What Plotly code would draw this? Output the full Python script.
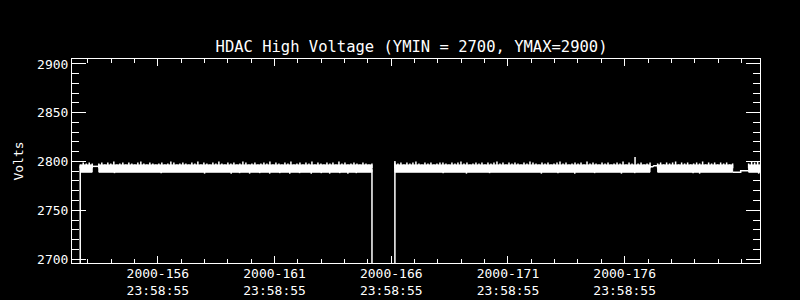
import plotly.graph_objects as go

# ---------------- data (day-of-year 2000, fractional) ----------------
title_text = "HDAC High Voltage (YMIN = 2700, YMAX=2900)"
y_label = "Volts"

major_tick_days = [156.999, 161.999, 166.999, 171.999, 176.999]
major_tick_text = ["2000-156<br>23:58:55", "2000-161<br>23:58:55", "2000-166<br>23:58:55",
                   "2000-171<br>23:58:55", "2000-176<br>23:58:55"]
minor_tick_days = [153.999, 154.999, 155.999, 156.999, 157.999, 158.999, 159.999, 160.999,
                   161.999, 162.999, 163.999, 164.999, 165.999, 166.999, 167.999, 168.999,
                   169.999, 170.999, 171.999, 172.999, 173.999, 174.999, 175.999, 176.999,
                   177.999, 178.999, 179.999, 180.999, 181.999, 182.999]

sample_step = 0.1286      # days between plotted samples
band_low = 2789           # typical lower edge of the noisy band
band_high = 2796.5        # typical upper edge of the dense band

seg_start = [153.672, 154.469, 167.155, 178.41, 182.31]

seg_a_top = [2797, 2799, 2798, 2799, 2798]
seg_b_top = [2798, 2799, 2797, 2799, 2798, 2800, 2797, 2798, 2799, 2797,
             2799, 2798, 2797, 2799, 2800, 2798, 2797, 2799, 2798, 2797,
             2798, 2799, 2797, 2798, 2800, 2799, 2797, 2798, 2799, 2798,
             2797, 2799, 2798, 2800, 2797, 2799, 2798, 2797, 2799, 2798,
             2800, 2798, 2797, 2799, 2798, 2799, 2797, 2798, 2800, 2799,
             2797, 2798, 2799, 2797, 2798, 2799, 2798, 2800, 2797, 2799,
             2798, 2797, 2799, 2798, 2800, 2797, 2798, 2799, 2797, 2799,
             2798, 2800, 2797, 2799, 2798, 2797, 2799, 2798, 2799, 2797,
             2800, 2798, 2799, 2797, 2798, 2799, 2798, 2797, 2799, 2798,
             2797, 2798]
seg_c_top = [2799, 2798, 2799, 2797, 2799, 2798, 2799, 2800, 2798, 2797,
             2799, 2798, 2799, 2797, 2798, 2799, 2799, 2798, 2797, 2799,
             2798, 2799, 2800, 2798, 2799, 2797, 2798, 2799, 2798, 2799,
             2797, 2799, 2798, 2799, 2800, 2798, 2799, 2797, 2799, 2798,
             2799, 2798, 2797, 2799, 2798, 2800, 2799, 2798, 2797, 2799,
             2798, 2799, 2797, 2798, 2799, 2800, 2798, 2799, 2797, 2798,
             2799, 2798, 2799, 2797, 2800, 2798, 2799, 2798, 2797, 2799,
             2798, 2799, 2797, 2798, 2799, 2798, 2800, 2797, 2799, 2798,
             2804.5, 2798, 2799, 2797, 2798, 2799]
seg_d_top = [2798, 2799, 2797, 2799, 2798, 2799, 2800, 2797, 2799, 2798,
             2799, 2797, 2798, 2799, 2798, 2800, 2797, 2799, 2798, 2799,
             2797, 2799, 2798, 2799, 2797, 2798]
seg_e_top = [2798, 2800, 2799, 2800, 2799]
seg_tops = [seg_a_top, seg_b_top, seg_c_top, seg_d_top, seg_e_top]

dip_days = [155.14, 157.14, 159.0, 160.14, 160.50, 160.93, 161.36, 161.79, 162.22, 162.65,
            163.07, 163.57, 164.0, 164.36, 164.79, 165.14, 165.5, 169.22, 170.22, 171.21,
            173.43, 174.14, 174.86, 175.71, 176.86, 177.43, 179.93, 180.21, 182.74]
dip_values = [2788, 2788, 2787.5, 2787.5, 2788, 2787.5, 2788, 2787.5, 2788, 2787.5,
              2788, 2787.5, 2788, 2787.5, 2788, 2787.5, 2788, 2788, 2787.5, 2788,
              2787.5, 2788, 2787.5, 2788, 2787.5, 2788, 2788, 2787.5, 2787.5]

# connecting pieces of the series between the dense segments (incl. drop-outs)
link_days = [153.672, 153.672, None, 154.186, 154.469, None,
             166.172, 166.172, 167.155, 167.155, None,
             178.085, 178.20, 178.25, 178.41, None,
             181.625, 181.97, 181.97, 182.31]
link_values = [0, 2795, None, 2795, 2795, None,
               2792, 0, 0, 2800.5, None,
               2794.5, 2794.5, 2795.7, 2795.7, None,
               2789, 2789, 2790.5, 2790.5]

x_range = [153.32, 182.797]
y_range = [2695.9, 2905.1]

# ---------------- figure ----------------
fig = go.Figure()
WHITE = "#ffffff"
LW = 1.5

body_x, body_y, spike_x, spike_y = [], [], [], []
for start, tops in zip(seg_start, seg_tops):
    t = [start + i * sample_step for i in range(len(tops))]
    body_x += [t[0], t[-1], t[-1], t[0], t[0], None]
    body_y += [band_low, band_low, band_high, band_high, band_low, None]
    for ti, v in zip(t, tops):
        spike_x += [ti, ti, None]
        spike_y += [2793, v, None]

fig.add_trace(go.Scatter(x=body_x, y=body_y, mode="lines", fill="toself",
                         fillcolor=WHITE, line=dict(color=WHITE, width=1),
                         hoverinfo="skip"))
fig.add_trace(go.Scatter(x=spike_x, y=spike_y, mode="lines",
                         line=dict(color=WHITE, width=LW), hoverinfo="skip"))
dx, dy = [], []
for t, v in zip(dip_days, dip_values):
    dx += [t, t, None]
    dy += [2792, v, None]
fig.add_trace(go.Scatter(x=dx, y=dy, mode="lines",
                         line=dict(color=WHITE, width=LW), hoverinfo="skip"))
fig.add_trace(go.Scatter(x=link_days, y=link_values, mode="lines",
                         line=dict(color=WHITE, width=LW), hoverinfo="skip"))

FONT = "DejaVu Sans Mono"
fig.update_layout(
    width=800, height=300,
    paper_bgcolor="black", plot_bgcolor="black",
    showlegend=False,
    margin=dict(l=72, r=40, t=59, b=37, autoexpand=False),
    font=dict(family=FONT, color=WHITE, size=13),
    title=dict(text=title_text, x=0.4935, xanchor="center", xref="paper",
               y=1 - 47 / 300, yref="container", yanchor="middle",
               font=dict(family=FONT, size=15.5, color=WHITE)),
)
fig.update_xaxes(
    range=x_range, showgrid=False, zeroline=False, automargin=False,
    showline=True, linecolor=WHITE, linewidth=1, mirror="ticks",
    ticks="inside", ticklen=7, tickwidth=1, tickcolor=WHITE,
    tickmode="array", tickvals=major_tick_days, ticktext=major_tick_text,
    tickfont=dict(family=FONT, size=13, color=WHITE), ticklabelstandoff=-2,
    minor=dict(ticks="inside", ticklen=4, tickwidth=1, tickcolor=WHITE,
               tickmode="array", tickvals=minor_tick_days, showgrid=False),
)
fig.update_yaxes(
    range=y_range, showgrid=False, zeroline=False, automargin=False,
    showline=True, linecolor=WHITE, linewidth=1, mirror="ticks",
    ticks="inside", ticklen=14, tickwidth=1, tickcolor=WHITE,
    tickmode="linear", tick0=2700, dtick=50,
    tickfont=dict(family=FONT, size=13, color=WHITE),
    minor=dict(ticks="inside", ticklen=7, tickwidth=1, tickcolor=WHITE,
               tick0=2700, dtick=10, showgrid=False),
    title=dict(text=y_label, font=dict(family=FONT, size=13, color=WHITE), standoff=10),
)

fig.write_html("out.html")
